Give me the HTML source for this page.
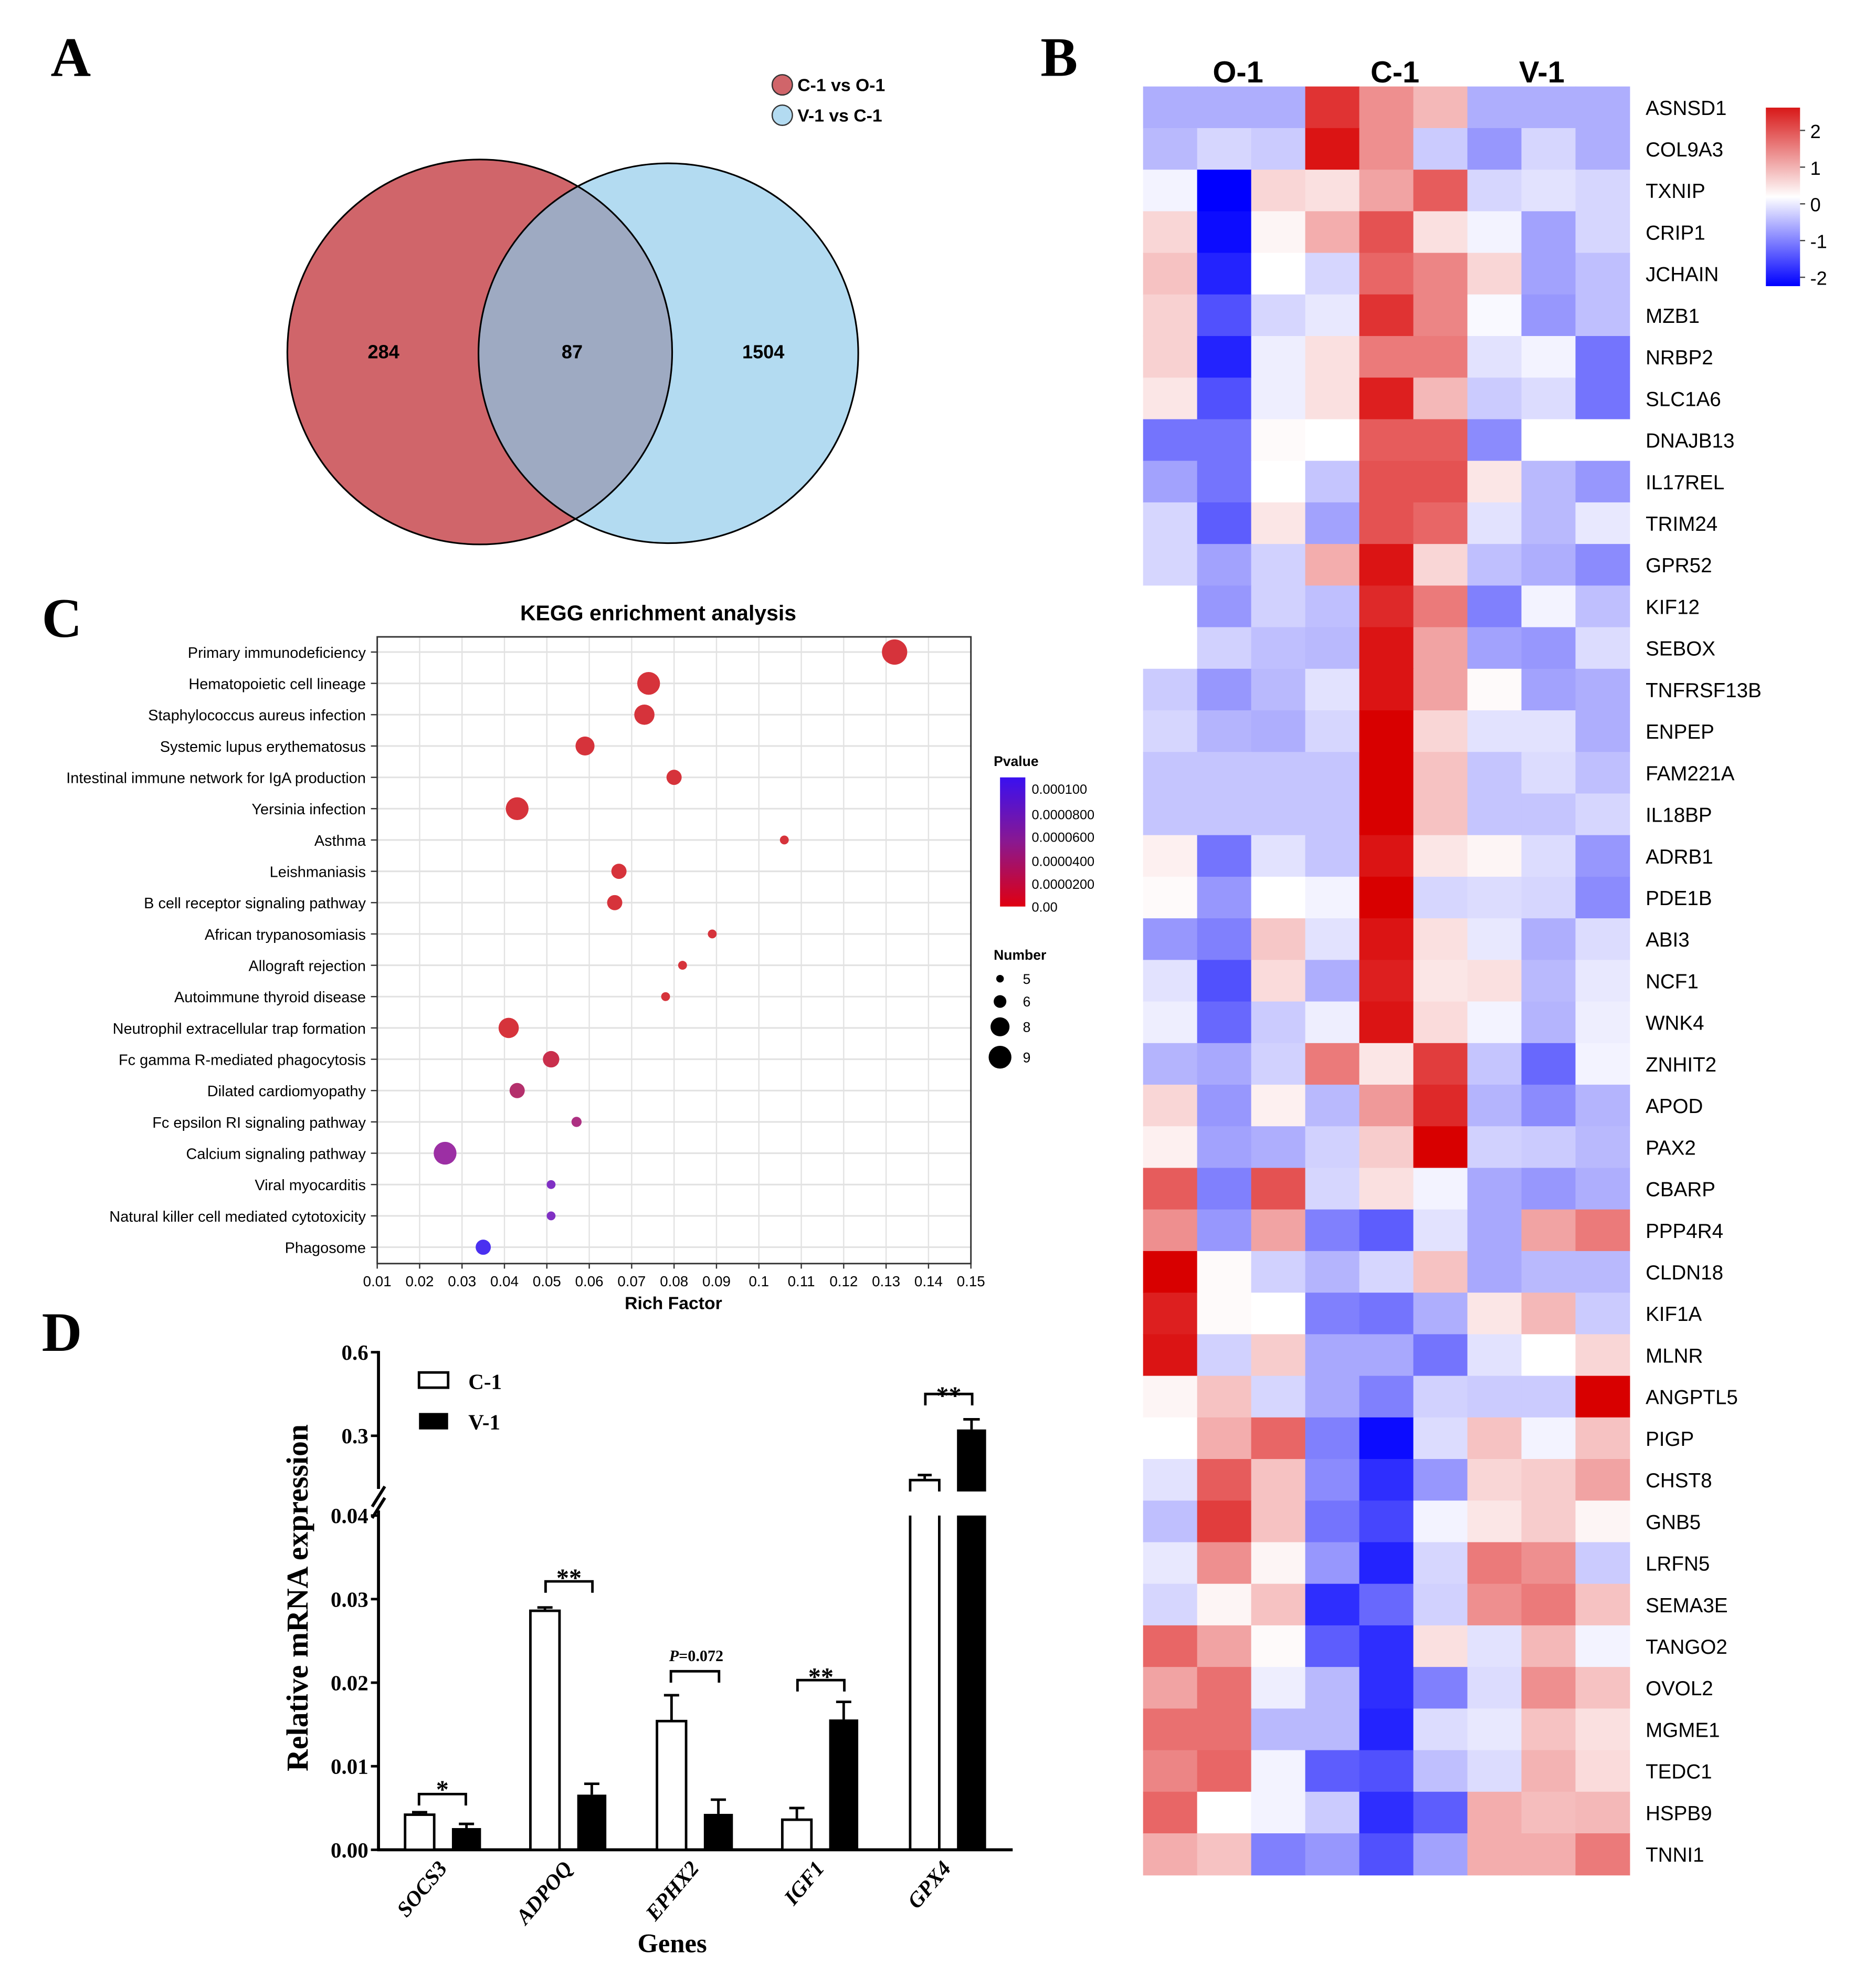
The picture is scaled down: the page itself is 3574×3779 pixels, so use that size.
<!DOCTYPE html>
<html><head><meta charset="utf-8"><style>
html,body{margin:0;padding:0;background:#fff}
svg{display:block}
text{font-family:"Liberation Sans",sans-serif}
.serif{font-family:"Liberation Serif",serif}
</style></head><body>
<svg id="s" width="3574" height="3779" viewBox="0 0 1482 1567" preserveAspectRatio="none" xmlns="http://www.w3.org/2000/svg">
<defs>
<clipPath id="cr"><circle cx="379" cy="278" r="152"/></clipPath>
<linearGradient id="hb" x1="0" y1="0" x2="0" y2="1">
<stop offset="0" stop-color="#d81818"/><stop offset="0.5" stop-color="#ffffff"/><stop offset="1" stop-color="#0000ff"/></linearGradient>
<linearGradient id="pb" x1="0" y1="0" x2="0" y2="1">
<stop offset="0" stop-color="#3a10f0"/><stop offset="0.5" stop-color="#8a1890"/><stop offset="1" stop-color="#e00010"/></linearGradient>
</defs>
<g id="g"></g>
</svg>
<script>
var o=[];
function T(x,y,t,a){o.push('<text x="'+x+'" y="'+y+'" '+(a||'')+'>'+t+'</text>');}
[['A',40,60],['B',822,60],['C',33,503],['D',33,1067]].forEach(function(p){T(p[1],p[2],p[0],'class="serif" font-size="44" font-weight="bold"');});
o.push('<circle cx="379" cy="278" r="152" fill="#d0656a"/>');
o.push('<circle cx="528" cy="279" r="150" fill="#b3dbf1"/>');
o.push('<circle cx="528" cy="279" r="150" fill="#9eaac2" clip-path="url(#cr)"/>');
o.push('<circle cx="379" cy="278" r="152" fill="none" stroke="#000" stroke-width="1.3"/>');
o.push('<circle cx="528" cy="279" r="150" fill="none" stroke="#000" stroke-width="1.3"/>');
T(303,283,'284','font-size="15" font-weight="bold" text-anchor="middle"');
T(452,283,'87','font-size="15" font-weight="bold" text-anchor="middle"');
T(603,283,'1504','font-size="15" font-weight="bold" text-anchor="middle"');
o.push('<circle cx="618" cy="67" r="8" fill="#d0656a" stroke="#333" stroke-width="1"/>');
o.push('<circle cx="618" cy="91" r="8" fill="#b3dbf1" stroke="#333" stroke-width="1"/>');
T(630,72,'C-1 vs O-1','font-size="14" font-weight="bold"');
T(630,96,'V-1 vs C-1','font-size="14" font-weight="bold"');
var genes="ASNSD1 COL9A3 TXNIP CRIP1 JCHAIN MZB1 NRBP2 SLC1A6 DNAJB13 IL17REL TRIM24 GPR52 KIF12 SEBOX TNFRSF13B ENPEP FAM221A IL18BP ADRB1 PDE1B ABI3 NCF1 WNK4 ZNHIT2 APOD PAX2 CBARP PPP4R4 CLDN18 KIF1A MLNR ANGPTL5 PIGP CHST8 GNB5 LRFN5 SEMA3E TANGO2 OVOL2 MGME1 TEDC1 HSPB9 TNNI1".split(' ');
var V=[
[-0.7,-0.7,-0.7,2.0,1.1,0.7,-0.7,-0.7,-0.7],
[-0.6,-0.35,-0.45,2.3,1.1,-0.45,-0.9,-0.35,-0.7],
[-0.1,-2.2,0.4,0.3,0.9,1.6,-0.35,-0.25,-0.35],
[0.4,-2.1,0.1,0.8,1.7,0.3,-0.1,-0.8,-0.35],
[0.6,-1.9,0,-0.35,1.5,1.2,0.4,-0.8,-0.55],
[0.45,-1.5,-0.35,-0.2,2.0,1.2,-0.05,-0.9,-0.55],
[0.45,-1.9,-0.15,0.3,1.3,1.3,-0.25,-0.1,-1.2],
[0.25,-1.5,-0.15,0.3,2.2,0.7,-0.45,-0.3,-1.2],
[-1.2,-1.2,0.05,0,1.6,1.6,-1.0,0,0],
[-0.8,-1.2,0,-0.5,1.7,1.7,0.25,-0.6,-0.9],
[-0.35,-1.4,0.25,-0.8,1.7,1.5,-0.25,-0.6,-0.2],
[-0.35,-0.8,-0.4,0.8,2.3,0.4,-0.55,-0.7,-1.0],
[0,-0.9,-0.4,-0.55,2.1,1.3,-1.1,-0.1,-0.55],
[0,-0.4,-0.55,-0.6,2.3,0.9,-0.8,-0.9,-0.3],
[-0.45,-0.9,-0.6,-0.25,2.3,0.9,0.05,-0.8,-0.7],
[-0.35,-0.65,-0.7,-0.35,2.5,0.4,-0.25,-0.25,-0.7],
[-0.5,-0.5,-0.5,-0.5,2.5,0.6,-0.5,-0.3,-0.55],
[-0.5,-0.5,-0.5,-0.5,2.5,0.6,-0.5,-0.5,-0.35],
[0.15,-1.2,-0.25,-0.5,2.3,0.25,0.1,-0.3,-0.9],
[0.05,-0.9,0,-0.1,2.5,-0.35,-0.3,-0.35,-1.0],
[-0.9,-1.1,0.55,-0.25,2.3,0.3,-0.2,-0.7,-0.3],
[-0.25,-1.5,0.35,-0.7,2.2,0.25,0.3,-0.6,-0.2],
[-0.15,-1.3,-0.45,-0.15,2.3,0.35,-0.1,-0.65,-0.15],
[-0.65,-0.75,-0.4,1.3,0.25,1.9,-0.5,-1.3,-0.1],
[0.4,-0.9,0.15,-0.6,1.0,2.1,-0.65,-1.0,-0.65],
[0.15,-0.8,-0.7,-0.4,0.5,2.5,-0.4,-0.45,-0.6],
[1.6,-1.1,1.7,-0.35,0.3,-0.1,-0.75,-0.9,-0.7],
[1.1,-0.9,0.9,-1.1,-1.4,-0.25,-0.75,0.9,1.3],
[2.5,0.05,-0.4,-0.65,-0.35,0.6,-0.75,-0.6,-0.6],
[2.2,0.05,0,-1.1,-1.2,-0.7,0.25,0.7,-0.45],
[2.3,-0.4,0.5,-0.75,-0.75,-1.2,-0.25,0,0.4],
[0.1,0.6,-0.35,-0.75,-1.1,-0.4,-0.45,-0.45,2.5],
[0,0.8,1.5,-1.1,-2.1,-0.3,0.6,-0.1,0.6],
[-0.25,1.6,0.6,-1.0,-1.8,-0.9,0.4,0.5,0.9],
[-0.55,1.9,0.6,-1.2,-1.6,-0.1,0.25,0.5,0.1],
[-0.2,1.1,0.1,-0.9,-1.9,-0.35,1.3,1.1,-0.45],
[-0.35,0.1,0.6,-1.8,-1.3,-0.4,1.1,1.3,0.6],
[1.5,0.9,0.05,-1.4,-1.8,0.3,-0.25,0.7,-0.1],
[0.9,1.4,-0.15,-0.6,-1.8,-1.1,-0.3,1.1,0.6],
[1.4,1.4,-0.6,-0.6,-1.9,-0.3,-0.2,0.6,0.3],
[1.2,1.5,-0.1,-1.4,-1.5,-0.55,-0.3,0.75,0.35],
[1.5,0,-0.1,-0.45,-1.8,-1.4,0.8,0.65,0.7],
[0.8,0.6,-1.1,-0.9,-1.5,-0.8,0.8,0.8,1.3]];
function col(v){var r,g,b;if(v>=0){var t=Math.min(v/2.5,1);r=255-t*39;g=255*(1-t);b=g;}else{var t=Math.min(-v/2.2,1);r=255*(1-t);g=r;b=255-t*8*(1-t);}
return 'rgb('+Math.round(r)+','+Math.round(g)+','+Math.round(b)+')';}
var hx=903,hy=68.3,cw=42.7,rh=32.85;
for(var i=0;i<43;i++){for(var j=0;j<9;j++){o.push('<rect x="'+(hx+j*cw).toFixed(2)+'" y="'+(hy+i*rh).toFixed(2)+'" width="'+(cw+0.4).toFixed(2)+'" height="'+(rh+0.4).toFixed(2)+'" fill="'+col(V[i][j])+'"/>');}
T(1300,hy+i*rh+rh/2+6,genes[i],'font-size="16"');}
T(978,65,'O-1','font-size="24" font-weight="bold" text-anchor="middle"');
T(1102,65,'C-1','font-size="24" font-weight="bold" text-anchor="middle"');
T(1218,65,'V-1','font-size="24" font-weight="bold" text-anchor="middle"');
o.push('<rect x="1395" y="85" width="27" height="141" fill="url(#hb)"/>');
[['2',103],['1',132],['0',161],['-1',190],['-2',219]].forEach(function(p){o.push('<line x1="1422" x2="1426" y1="'+p[1]+'" y2="'+p[1]+'" stroke="#444"/>');T(1430,p[1]+6,p[0],'font-size="15"');});
var px0=298,px1=767,py0=503,py1=998;
function kx(v){return px0+(v-0.01)/0.01*33.5;}
var path=["Primary immunodeficiency","Hematopoietic cell lineage","Staphylococcus aureus infection","Systemic lupus erythematosus","Intestinal immune network for IgA production","Yersinia infection","Asthma","Leishmaniasis","B cell receptor signaling pathway","African trypanosomiasis","Allograft rejection","Autoimmune thyroid disease","Neutrophil extracellular trap formation","Fc gamma R-mediated phagocytosis","Dilated cardiomyopathy","Fc epsilon RI signaling pathway","Calcium signaling pathway","Viral myocarditis","Natural killer cell mediated cytotoxicity","Phagosome"];
var R='#d6333b';
var dots=[[0.132,10,R],[0.074,9,R],[0.073,8,R],[0.059,7.5,R],[0.080,6,R],[0.043,9,R],[0.106,3.5,R],[0.067,6,R],[0.066,6,R],[0.089,3.5,R],[0.082,3.5,R],[0.078,3.5,R],[0.041,8,R],[0.051,6.5,'#c92f4c'],[0.043,6,'#b4306c'],[0.057,4,'#ad3082'],[0.026,9,'#9c2fa4'],[0.051,3.5,'#8030c4'],[0.051,3.5,'#8030c4'],[0.035,6,'#4a30f0']];
for(var k=0;k<=14;k++){var x=kx(0.01+k*0.01);o.push('<line x1="'+x+'" x2="'+x+'" y1="'+py0+'" y2="'+py1+'" stroke="#e2e2e2" stroke-width="1"/>');
o.push('<line x1="'+x+'" x2="'+x+'" y1="'+py1+'" y2="'+(py1+4)+'" stroke="#333"/>');
var lab=(Math.round((0.01+k*0.01)*100)/100).toString();T(x,1016,lab,'font-size="11.5" text-anchor="middle"');}
for(var i=0;i<20;i++){var y=515+i*24.74;o.push('<line x1="'+px0+'" x2="'+px1+'" y1="'+y+'" y2="'+y+'" stroke="#e2e2e2" stroke-width="1.3"/>');
o.push('<line x1="'+(px0-5)+'" x2="'+px0+'" y1="'+y+'" y2="'+y+'" stroke="#333"/>');
T(px0-9,y+4.5,path[i],'font-size="12" text-anchor="end"');}
o.push('<rect x="'+px0+'" y="'+py0+'" width="'+(px1-px0)+'" height="'+(py1-py0)+'" fill="none" stroke="#333" stroke-width="1.2"/>');
for(var i=0;i<20;i++){var d=dots[i];o.push('<circle cx="'+kx(d[0])+'" cy="'+(515+i*24.74)+'" r="'+d[1]+'" fill="'+d[2]+'"/>');}
T(520,490,'KEGG enrichment analysis','font-size="17" font-weight="bold" text-anchor="middle"');
T(532,1034,'Rich Factor','font-size="14" font-weight="bold" text-anchor="middle"');
T(785,605,'Pvalue','font-size="11" font-weight="bold"');
o.push('<rect x="790" y="614" width="20" height="102" fill="url(#pb)"/>');
[['0.000100',623],['0.0000800',643],['0.0000600',661],['0.0000400',680],['0.0000200',698],['0.00',716]].forEach(function(p){T(815,p[1]+4,p[0],'font-size="10.5"');});
T(785,758,'Number','font-size="11" font-weight="bold"');
[[773,3,'5'],[791,5,'6'],[811,7.5,'8'],[835,9,'9']].forEach(function(p){o.push('<circle cx="790" cy="'+p[0]+'" r="'+p[1]+'" fill="#000"/>');T(808,p[0]+4,p[2],'font-size="11"');});
var ax=299,base=1461;
function yl(v){return base-v/0.01*66;}
o.push('<line x1="'+ax+'" x2="'+ax+'" y1="1067" y2="1176" stroke="#000" stroke-width="2.4"/>');
o.push('<line x1="'+ax+'" x2="'+ax+'" y1="1193" y2="'+(base+1)+'" stroke="#000" stroke-width="2.4"/>');
o.push('<line x1="'+(ax-5)+'" x2="'+(ax+5)+'" y1="1190" y2="1174" stroke="#000" stroke-width="2.4"/>');
o.push('<line x1="'+(ax-5)+'" x2="'+(ax+5)+'" y1="1199" y2="1183" stroke="#000" stroke-width="2.4"/>');
o.push('<line x1="'+(ax-1)+'" x2="800" y1="'+base+'" y2="'+base+'" stroke="#000" stroke-width="2.4"/>');
[['0.6',1068],['0.3',1134],['0.04',1197],['0.03',1263],['0.02',1329],['0.01',1395],['0.00',1461]].forEach(function(p){o.push('<line x1="'+(ax-6)+'" x2="'+ax+'" y1="'+p[1]+'" y2="'+p[1]+'" stroke="#000" stroke-width="2"/>');T(ax-8,p[1]+6,p[0],'class="serif" font-size="17" font-weight="bold" text-anchor="end"');});
var bars=[[320,0.0042,0.0003,357,0.0026,0.0005],[419,0.0286,0.0004,456,0.0066,0.0013],[519,0.0154,0.0031,556,0.0043,0.0017],[618,0.0036,0.0014,655,0.0156,0.0021]];
var bw=23;
bars.forEach(function(b){
 o.push('<line x1="'+(b[0]+bw/2)+'" x2="'+(b[0]+bw/2)+'" y1="'+yl(b[1])+'" y2="'+yl(b[1]+b[2])+'" stroke="#000" stroke-width="2"/>');
 o.push('<line x1="'+(b[0]+bw/2-6)+'" x2="'+(b[0]+bw/2+6)+'" y1="'+yl(b[1]+b[2])+'" y2="'+yl(b[1]+b[2])+'" stroke="#000" stroke-width="2"/>');
 o.push('<rect x="'+b[0]+'" y="'+yl(b[1])+'" width="'+bw+'" height="'+(base-yl(b[1]))+'" fill="#fff" stroke="#000" stroke-width="2"/>');
 o.push('<line x1="'+(b[3]+bw/2)+'" x2="'+(b[3]+bw/2)+'" y1="'+yl(b[4])+'" y2="'+yl(b[4]+b[5])+'" stroke="#000" stroke-width="2"/>');
 o.push('<line x1="'+(b[3]+bw/2-6)+'" x2="'+(b[3]+bw/2+6)+'" y1="'+yl(b[4]+b[5])+'" y2="'+yl(b[4]+b[5])+'" stroke="#000" stroke-width="2"/>');
 o.push('<rect x="'+b[3]+'" y="'+yl(b[4])+'" width="'+bw+'" height="'+(base-yl(b[4]))+'" fill="#000"/>');
});
o.push('<path d="M719 '+base+' V1197 M742 1197 V'+base+'" stroke="#000" stroke-width="2" fill="none"/>');
o.push('<path d="M719 1178 V1169 H742 V1178" stroke="#000" stroke-width="2" fill="#fff"/>');
o.push('<path d="M730.5 1169 V1165 M725 1165 H736" stroke="#000" stroke-width="2"/>');
o.push('<rect x="756" y="1197" width="23" height="'+(base-1197)+'" fill="#000"/>');
o.push('<rect x="756" y="1129" width="23" height="49" fill="#000"/>');
o.push('<path d="M767.5 1129 V1121 M761 1121 H774" stroke="#000" stroke-width="2"/>');
[[331,368,1417,'*',1414],[431,468,1249,'**',1247],[630,667,1327,'**',1325],[731,768,1101,'**',1103]].forEach(function(b){
 o.push('<path d="M'+b[0]+' '+(b[2]+9)+' V'+b[2]+' H'+b[1]+' V'+(b[2]+9)+'" stroke="#000" stroke-width="2" fill="none"/>');
 T((b[0]+b[1])/2,b[4]+6,b[3],'class="serif" font-size="20" font-weight="bold" text-anchor="middle"');});
o.push('<path d="M530 1329 V1320 H568 V1329" stroke="#000" stroke-width="2" fill="none"/>');
T(550,1312,'<tspan font-style="italic">P</tspan>=0.072','class="serif" font-size="12.5" font-weight="bold" text-anchor="middle"');
o.push('<rect x="331" y="1084" width="23" height="12" fill="#fff" stroke="#000" stroke-width="2"/>');
o.push('<rect x="331" y="1116" width="23" height="13" fill="#000"/>');
T(370,1097,'C-1','class="serif" font-size="17" font-weight="bold"');
T(370,1129,'V-1','class="serif" font-size="17" font-weight="bold"');
T(0,0,'Relative mRNA expression','class="serif" font-size="24" font-weight="bold" text-anchor="middle" transform="translate(243,1262) rotate(-90)"');
[['SOCS3',354],['ADPOQ',453],['EPHX2',553],['IGF1',652],['GPX4',752]].forEach(function(p){
 T(0,0,p[0],'class="serif" font-size="17" font-weight="bold" font-style="italic" text-anchor="end" transform="translate('+p[1]+',1476) rotate(-50)"');});
T(531,1542,'Genes','class="serif" font-size="21" font-weight="bold" text-anchor="middle"');
document.getElementById('g').innerHTML=o.join('');
</script>
</body></html>
